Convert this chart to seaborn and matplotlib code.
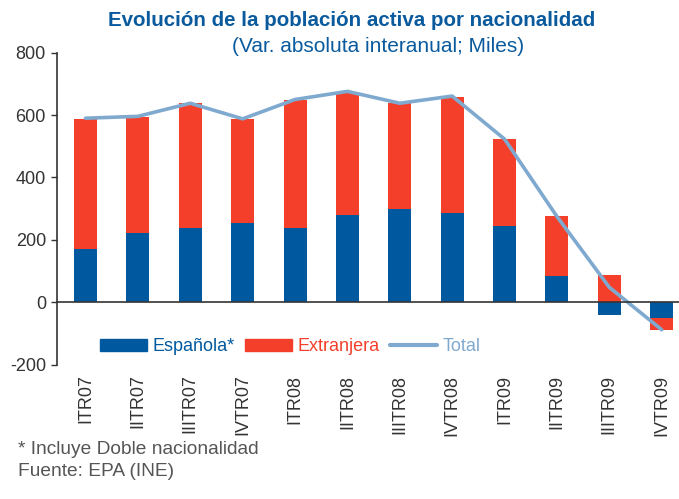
import matplotlib
matplotlib.use("Agg")
import matplotlib.pyplot as plt
import matplotlib.patches as mpatches
import matplotlib.lines as mlines
from matplotlib.ticker import FixedLocator
import seaborn as sns
import numpy as np
import pandas as pd

# Data (thousands)
quarters = ["ITR07", "IITR07", "IIITR07", "IVTR07", "ITR08", "IITR08",
            "IIITR08", "IVTR08", "ITR09", "IITR09", "IIITR09", "IVTR09"]
espanola = [171, 222, 239, 254, 239, 280, 299, 286, 246, 85, -41, -51]
extranjera = [416, 372, 400, 333, 409, 394, 339, 372, 277, 192, 87, -39]
total = [590, 596, 638, 588, 650, 676, 638, 661, 523, 275, 48, -88]

BLUE = "#00599F"
RED = "#F4402A"
LIGHT = "#7FA9CF"
TITLE = "#0A5A9E"
DARK = "#333333"

sns.set_style("white")
plt.rcParams["font.family"] = ["Liberation Sans", "DejaVu Sans"]
plt.rcParams["axes.unicode_minus"] = False

df = pd.DataFrame({"q": quarters, "esp": espanola, "ext": extranjera, "total": total})
# stacked top of the red segment: on top of blue when same sign, else from zero
same = np.sign(df["esp"]) == np.sign(df["ext"])
df["stack"] = np.where(same, df["esp"] + df["ext"], df["ext"])

fig = plt.figure(figsize=(6.79, 4.99), dpi=100)
ax = fig.add_axes([57 / 679, 134.3 / 499, 1 - 57 / 679, 312 / 499])

sns.barplot(data=df, x="q", y="stack", color=RED, width=0.44, saturation=1,
            linewidth=0, ax=ax, order=quarters)
sns.barplot(data=df, x="q", y="esp", color=BLUE, width=0.44, saturation=1,
            linewidth=0, ax=ax, order=quarters)
sns.lineplot(x=np.arange(len(quarters)), y=df["total"], color=LIGHT, lw=2.6,
             ax=ax, sort=False)

ax.set_xlim(-0.544, 11.33)
ax.set_ylim(-200, 800)
ax.set_yticks([-200, 0, 200, 400, 600, 800])
ax.set_xlabel("")
ax.set_ylabel("")

for s in ["top", "right"]:
    ax.spines[s].set_visible(False)
ax.spines["bottom"].set_position(("data", 0))
ax.spines["bottom"].set_color(DARK)
ax.spines["left"].set_color(DARK)
ax.spines["bottom"].set_linewidth(1.2)
ax.spines["left"].set_linewidth(1.2)

ax.set_xticks(np.arange(len(quarters)))
ax.set_xticklabels(quarters, rotation=90, va="top")
ax.xaxis.set_minor_locator(FixedLocator(np.arange(len(quarters)) + 0.5))
ax.tick_params(axis="x", which="major", length=0, pad=52, labelsize=13, colors=DARK)
ax.tick_params(axis="x", which="minor", length=4, width=1, direction="out", colors=DARK)
ax.tick_params(axis="y", length=4, width=1, direction="out", left=True, pad=4,
               labelsize=13, colors=DARK)

handles = [mpatches.Patch(color=BLUE), mpatches.Patch(color=RED),
           mlines.Line2D([], [], color=LIGHT, lw=3)]
leg = ax.legend(handles, ["Española*", "Extranjera", "Total"], ncol=3, frameon=False,
                loc="center", bbox_to_anchor=(0.375, 0.057), fontsize=13,
                handlelength=2.6, handletextpad=0.3, columnspacing=0.6,
                labelcolor=[BLUE, RED, LIGHT])

fig.text(352 / 679, 1 - 20 / 499, "Evolución de la población activa por nacionalidad",
         ha="center", va="center", fontsize=14.8, fontweight="bold", color=TITLE)
fig.text(378 / 679, 1 - 46 / 499, "(Var. absoluta interanual; Miles)",
         ha="center", va="center", fontsize=15, color=TITLE)
fig.text(18 / 679, 1 - 450 / 499, "* Incluye Doble nacionalidad",
         ha="left", va="center", fontsize=13.8, color="#555555")
fig.text(18 / 679, 1 - 471 / 499, "Fuente: EPA (INE)",
         ha="left", va="center", fontsize=13.8, color="#555555")

fig.savefig("out.png", dpi=100)
